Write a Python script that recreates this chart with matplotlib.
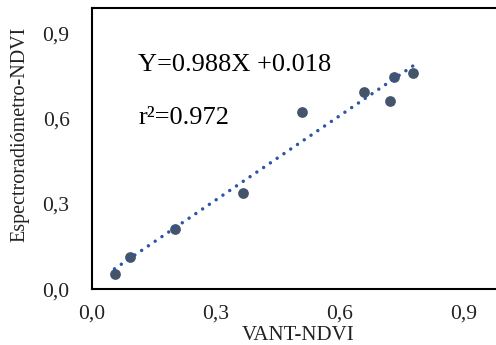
import matplotlib
matplotlib.use("Agg")
import matplotlib.pyplot as plt
import numpy as np
from matplotlib.ticker import FuncFormatter

# NDVI pairs: drone (VANT) vs spectroradiometer
vant_ndvi = [0.055, 0.093, 0.201, 0.366, 0.509, 0.658, 0.722, 0.731, 0.776]
espectro_ndvi = [0.054, 0.113, 0.213, 0.340, 0.623, 0.694, 0.662, 0.745, 0.759]
slope = 0.988
intercept = 0.018
r2 = 0.972
ticks = [0.0, 0.3, 0.6, 0.9]

plt.rcParams['font.family'] = ['Liberation Serif', 'DejaVu Serif']

fig = plt.figure(figsize=(4.96, 3.45), dpi=100)
ax = fig.add_axes([0.185, 0.161, 0.834, 0.817])

# linear trend line, dotted
xs = np.array([min(vant_ndvi), max(vant_ndvi)])
ax.plot(xs, slope * xs + intercept, color='#2E55A3', linewidth=2.5,
        linestyle=(0, (0.01, 2.35)), dash_capstyle='round', zorder=3)

ax.scatter(vant_ndvi, espectro_ndvi, s=45, color='#44546A', zorder=2)

ax.set_xlim(0, 1.0)
ax.set_ylim(0, 0.99)
ax.set_xticks(ticks)
ax.set_yticks(ticks)
fmt = FuncFormatter(lambda v, p: f"{v:.1f}".replace('.', ','))
ax.xaxis.set_major_formatter(fmt)
ax.yaxis.set_major_formatter(fmt)
ax.tick_params(axis='both', length=0, labelsize=15.5, colors='#222222')
ax.tick_params(axis='x', pad=11)
ax.tick_params(axis='y', pad=16)

for sp in ax.spines.values():
    sp.set_linewidth(1.5)
ax.spines['right'].set_visible(False)

ax.set_xlabel("VANT-NDVI", fontsize=15, color='#222222')
ax.set_ylabel("Espectroradiómetro-NDVI", fontsize=14.5, color='#222222')
ax.xaxis.set_label_coords(0.5, -0.128)
ax.yaxis.set_label_coords(-0.15, 0.551)

ax.text(0.112, 0.796, f"Y={slope}X +{intercept}", transform=ax.transAxes,
        fontsize=19, va='center', ha='left')
ax.text(0.112, 0.608, f"r²={r2}", transform=ax.transAxes,
        fontsize=19, va='center', ha='left')

fig.savefig("out.png", dpi=100)
